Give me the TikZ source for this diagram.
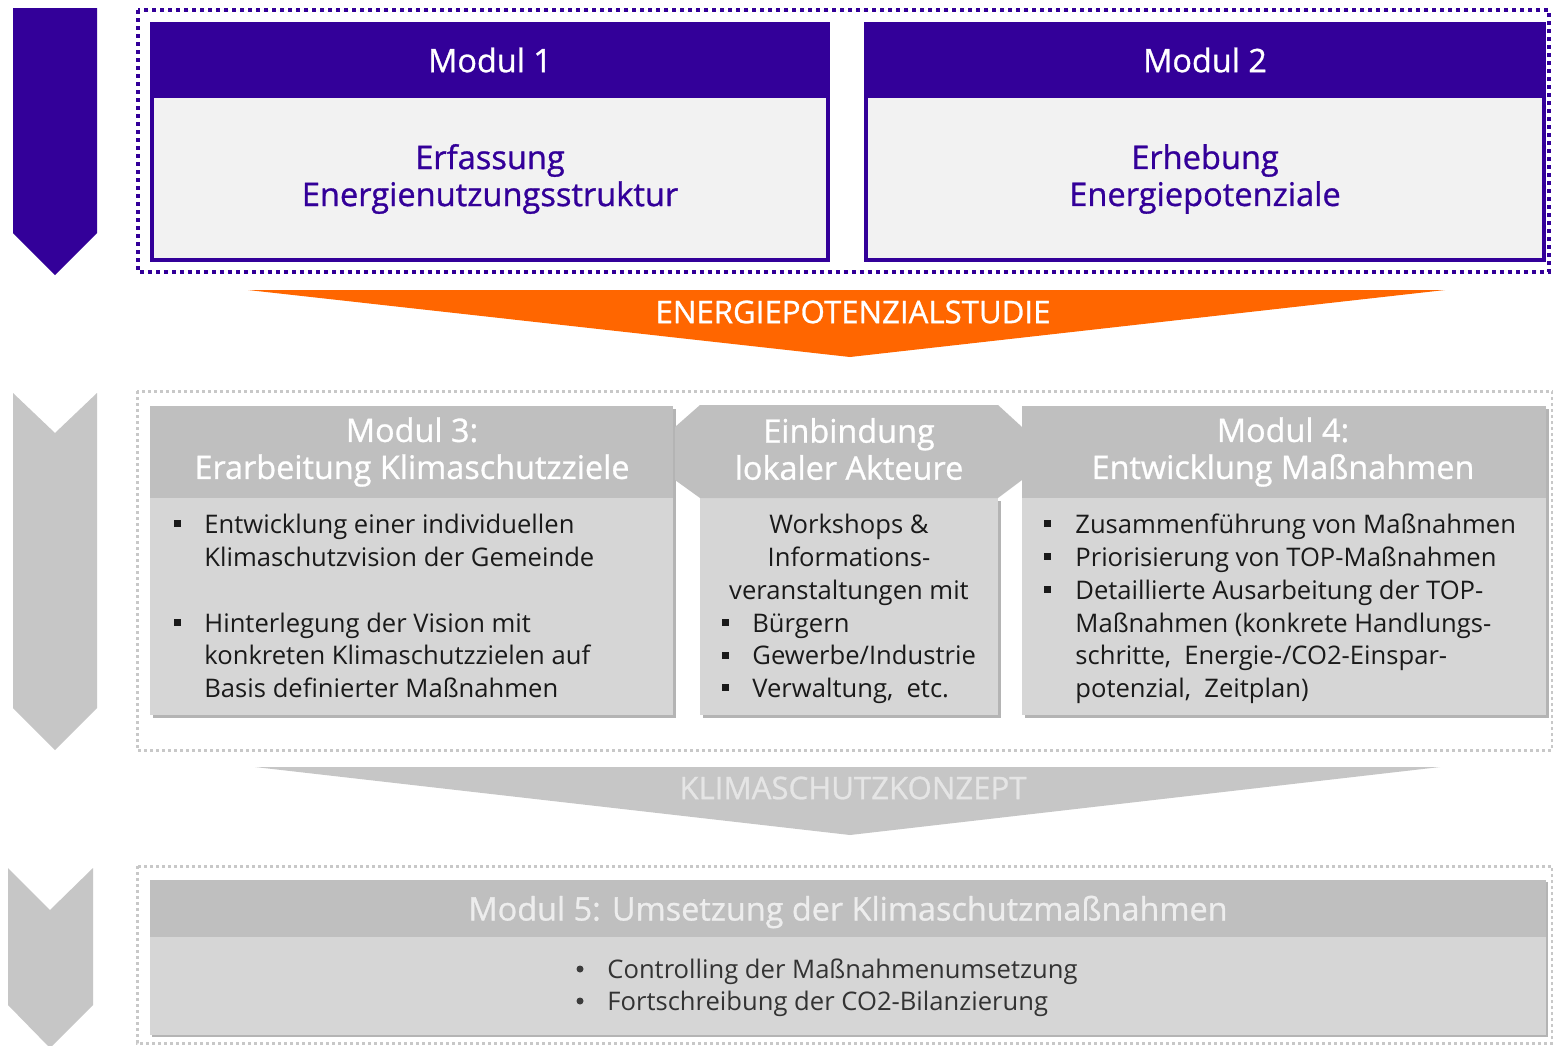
\documentclass[tikz,border=0pt]{standalone}
\usepackage{fontspec}
\setmainfont{Open Sans}
\newfontfamily\semibf[FakeBold=0.9]{Open Sans}
\definecolor{purp}{HTML}{330099}
\definecolor{lgbody}{HTML}{F2F2F2}
\definecolor{orng}{HTML}{FF6600}
\definecolor{ghead}{HTML}{BFBFBF}
\definecolor{gbody}{HTML}{D6D6D6}
\definecolor{gshadow}{HTML}{B4B4B4}
\definecolor{garrow}{HTML}{C6C6C6}
\definecolor{gdot}{HTML}{C8C8C8}
\definecolor{btxt}{HTML}{1A1A1A}
\begin{document}
\begin{tikzpicture}[x=0.5pt,y=-0.5pt,
  headtxt/.style={inner sep=0pt, text=white, font=\semibf\fontsize{16.2}{18.5}\selectfont, align=center},
  purptxt/.style={inner sep=0pt, text=purp, font=\semibf\fontsize{16.3}{18.5}\selectfont, align=center},
  bodytxt/.style={inner sep=0pt, text=btxt, font=\fontsize{12.8}{16.5}\selectfont, anchor=base west},
  bodyc/.style={inner sep=0pt, text=btxt, font=\fontsize{12.8}{16.5}\selectfont, anchor=base},
  bandtxt/.style={inner sep=0pt, font=\semibf\fontsize{15.6}{18}\selectfont},
  purpframe/.style={purp, line width=2pt, dash pattern=on 2pt off 2pt},
  greyframe/.style={gdot, line width=1.5pt, dash pattern=on 1.5pt off 1.5pt},
  sqb/.style={fill=btxt}
]
\useasboundingbox (0,0) rectangle (1553,1045);
\fill[white] (0,0) rectangle (1553,1045);

% ---------- Row 1 ----------
\fill[purp] (13,8) -- (97,8) -- (97,233) -- (55,275) -- (13,233) -- cycle;
\draw[purpframe] (138,10) rectangle (1549,272);

\fill[lgbody] (150,22) rectangle (830,262);
\fill[purp] (150,22) rectangle (830,98);
\draw[purp, line width=2pt] (152,24) rectangle (828,260);
\node[headtxt] (m1h) at (490,60) {Modul 1};
\node[purptxt] (m1b) at (490,179) {Erfassung\\Energienutzungsstruktur};

\fill[lgbody] (864,22) rectangle (1546,262);
\fill[purp] (864,22) rectangle (1546,98);
\draw[purp, line width=2pt] (866,24) rectangle (1544,260);
\node[headtxt] (m2h) at (1205,60) {Modul 2};
\node[purptxt] (m2b) at (1205,179) {Erhebung\\Energiepotenziale};

\fill[orng] (248,290) -- (1445,290) -- (850,357) -- cycle;
\node[bandtxt, text=white] (eps) at (853,312) {ENERGIEPOTENZIALSTUDIE};

% ---------- Row 2 ----------
\fill[garrow] (13,393) -- (55,433) -- (97,393) -- (97,708) -- (55,750) -- (13,708) -- cycle;
\draw[greyframe] (137,391) rectangle (1552,750);

% Modul 3
\fill[gshadow] (153,409) rectangle (676,718);
\fill[gbody] (150,406) rectangle (673,715);
\fill[ghead] (150,406) rectangle (673,498);
\node[headtxt] (m3h) at (412,452) {Modul 3:\\Erarbeitung Klimaschutzziele};
\fill[sqb] (174,520) rectangle (181,527);
\node[bodytxt] (m3a1) at (204,533) {Entwicklung einer individuellen};
\node[bodytxt] (m3a2) at (204,566) {Klimaschutzvision der Gemeinde};
\fill[sqb] (174,619) rectangle (181,626);
\node[bodytxt] (m3b1) at (204,632) {Hinterlegung der Vision mit};
\node[bodytxt] (m3b2) at (204,664) {konkreten Klimaschutzzielen auf};
\node[bodytxt] (m3b3) at (204,697) {Basis definierter Maßnahmen};

% Einbindung
\fill[gshadow] (703,501) rectangle (1001,718);
\fill[gbody] (700,498) rectangle (998,715);
\fill[ghead] (700,405) -- (998,405) -- (1022,427) -- (1022,480) -- (998,498) -- (700,498) -- (675,480) -- (675,427) -- cycle;
\node[headtxt] (eih) at (849,449) {Einbindung\\lokaler Akteure};
\node[bodyc] (eib1) at (849,533) {Workshops \&};
\node[bodyc] (eib2) at (849,566) {Informations-};
\node[bodyc] (eib3) at (849,599) {veranstaltungen mit};
\fill[sqb] (722,619) rectangle (729,626);
\node[bodytxt] (eic1) at (752,632) {Bürgern};
\fill[sqb] (722,652) rectangle (729,659);
\node[bodytxt] (eic2) at (752,664) {Gewerbe/Industrie};
\fill[sqb] (722,684) rectangle (729,691);
\node[bodytxt] (eic3) at (752,697) {Verwaltung,\ \ etc.};

% Modul 4
\fill[gshadow] (1025,409) rectangle (1549,718);
\fill[gbody] (1022,406) rectangle (1546,715);
\fill[ghead] (1022,406) rectangle (1546,498);
\node[headtxt] (m4h) at (1283,452) {Modul 4:\\Entwicklung Maßnahmen};
\fill[sqb] (1044,520) rectangle (1051,527);
\node[bodytxt] (m4a) at (1075,533) {Zusammenführung von Maßnahmen};
\fill[sqb] (1044,553) rectangle (1051,560);
\node[bodytxt] (m4b) at (1075,566) {Priorisierung von TOP-Maßnahmen};
\fill[sqb] (1044,586) rectangle (1051,593);
\node[bodytxt] (m4c1) at (1075,599) {Detaillierte Ausarbeitung der TOP-};
\node[bodytxt] (m4c2) at (1075,632) {Maßnahmen (konkrete Handlungs-};
\node[bodytxt] (m4c3) at (1075,664) {schritte,\ \ Energie-/CO2-Einspar-};
\node[bodytxt] (m4c4) at (1075,697) {potenzial,\ \ Zeitplan)};

\fill[garrow] (255,767) -- (1440,767) -- (850,835) -- cycle;
\node[bandtxt, text=white!90!black] (ksk) at (853,788) {KLIMASCHUTZKONZEPT};

% ---------- Row 3 ----------
\fill[garrow] (8,868) -- (50,910) -- (93,868) -- (93,1005) -- (50,1048) -- (8,1005) -- cycle;
\draw[greyframe] (137,866) rectangle (1552,1043);

\fill[gshadow] (152,882) rectangle (1548,1037);
\fill[gbody] (150,880) rectangle (1546,1035);
\fill[ghead] (150,880) rectangle (1546,937);
\node[headtxt, text=white!93!black] (m5h) at (848,912) {Modul 5: Umsetzung der Klimaschutzmaßnahmen};
\fill[btxt!85!white] (580,969) circle (3.5);
\node[bodytxt, text=black!80] (m5a) at (607,978) {Controlling der Maßnahmenumsetzung};
\fill[btxt!85!white] (580,1001) circle (3.5);
\node[bodytxt, text=black!80] (m5b) at (607,1010) {Fortschreibung der CO2-Bilanzierung};
\end{tikzpicture}
\end{document}
